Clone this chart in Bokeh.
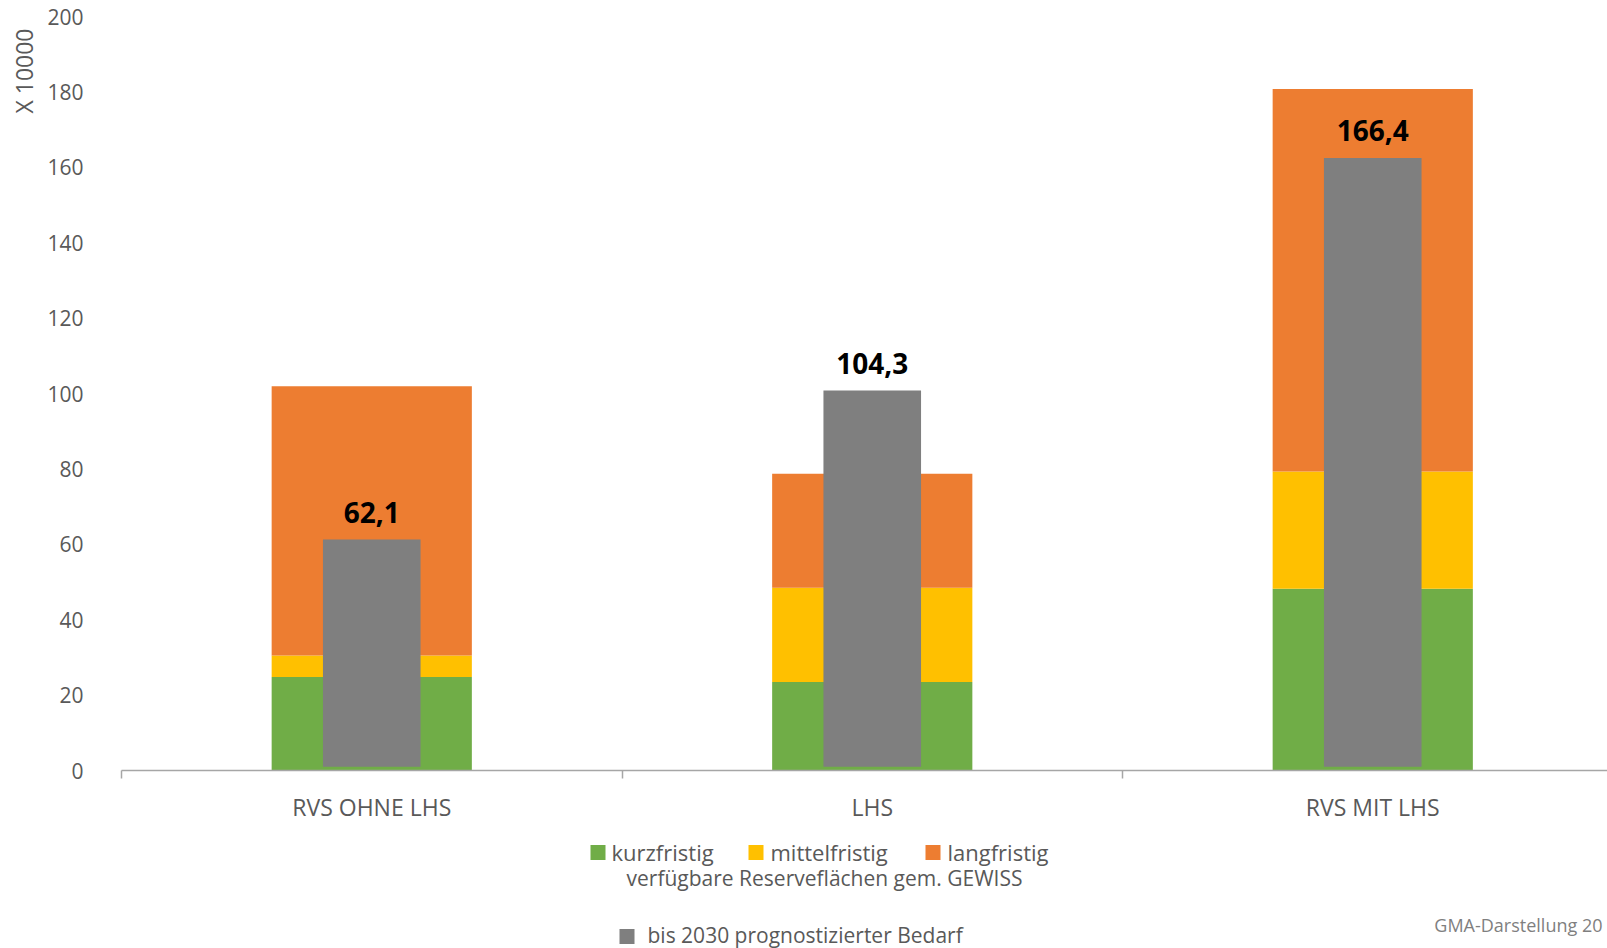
from bokeh.plotting import figure
from bokeh.layouts import column
from bokeh.models import ColumnDataSource, Range1d, FixedTicker, Title
from bokeh.core.properties import value
from bokeh.embed import file_html
from bokeh.resources import INLINE

# ---- data ----
categories = ["RVS OHNE LHS", "LHS", "RVS MIT LHS"]
kurzfristig = [24.8, 23.5, 48.2]
mittelfristig = [5.7, 25.0, 31.1]
langfristig = [71.4, 30.2, 101.5]
bedarf_top = [61.3, 100.8, 162.5]
bedarf_base = [1.0, 1.0, 1.0]
bedarf_labels = ["62,1", "104,3", "166,4"]
y_ticks = [0, 20, 40, 60, 80, 100, 120, 140, 160, 180, 200]
series_names = ["kurzfristig", "mittelfristig", "langfristig"]

FONT = "Open Sans"
TXT = "#595959"
GREEN, YELLOW, ORANGE, GRAY = "#70AD47", "#FFC000", "#ED7D31", "#7F7F7F"

W = 1605
LEFT = 117
FRAME_W = W - LEFT
xs = [i + 0.5 for i in range(len(categories))]
source = ColumnDataSource(dict(x=xs, kurz=kurzfristig, mittel=mittelfristig, lang=langfristig,
                               top=bedarf_top, base=bedarf_base, lab=bedarf_labels))

p = figure(x_range=Range1d(0, FRAME_W / 500.5), y_range=Range1d(0, 200),
           frame_width=FRAME_W, frame_height=754,
           min_border_left=LEFT, min_border_right=0, min_border_top=16, min_border_bottom=60,
           output_backend="svg", toolbar_location=None)
p.outline_line_color = None
p.xgrid.visible = False
p.ygrid.visible = False

p.vbar_stack(["kurz", "mittel", "lang"], x="x", width=0.4, color=[GREEN, YELLOW, ORANGE],
             line_color=None, source=source)
p.vbar(x="x", top="top", bottom="base", width=0.195, fill_color=GRAY, line_color=None, source=source)
p.text(x="x", y="top", text="lab", source=source, text_align="center", text_baseline="middle",
       y_offset=-27, text_font=value(FONT), text_font_style="bold", text_font_size="28px",
       text_color="black")

# y axis
ya = p.yaxis[0]
ya.ticker = FixedTicker(ticks=y_ticks)
ya.axis_line_color = None
ya.major_tick_line_color = None
ya.minor_tick_line_color = None
ya.major_label_standoff = 32
ya.major_label_text_font = FONT
ya.major_label_text_font_size = "21px"
ya.major_label_text_color = TXT

p.add_layout(Title(text="X 10000", align="right", offset=12, text_font=FONT, text_font_size="23px",
                   text_font_style="normal", text_color=TXT), "left")

# x axis
xa = p.xaxis[0]
xa.ticker = FixedTicker(ticks=xs, minor_ticks=[0, 1, 2, 3])
xa.axis_line_color = "#A6A6A6"
xa.axis_line_width = 1.5
xa.major_tick_line_color = None
xa.minor_tick_line_color = "#A6A6A6"
xa.minor_tick_line_width = 1.5
xa.minor_tick_in = 0
xa.minor_tick_out = 8
xa.major_label_overrides = {x: c for x, c in zip(xs, categories)}
xa.major_label_standoff = 12
xa.major_label_text_font = FONT
xa.major_label_text_font_size = "23px"
xa.major_label_text_color = TXT

# ---- legend / footer panel (data coords = page pixels) ----
TOP, BOT = 830, 948
q = figure(x_range=Range1d(LEFT, W), y_range=Range1d(BOT, TOP),
           frame_width=FRAME_W, frame_height=BOT - TOP,
           min_border_left=LEFT, min_border_right=0, min_border_top=0, min_border_bottom=0,
           x_axis_location=None, y_axis_location=None,
           output_backend="svg", toolbar_location=None)
q.outline_line_color = None
q.xgrid.visible = False
q.ygrid.visible = False

q.scatter(x=[593.5, 751.5, 928.5], y=[852] * 3, marker="square", size=15,
          fill_color=[GREEN, YELLOW, ORANGE], line_color=None)
q.text(x=[607, 766, 943], y=[851.5] * 3, text=series_names, text_baseline="middle",
       text_align="left", text_font=value(FONT), text_font_size="22px", text_color=TXT)
q.text(x=[820], y=[877], text=["verfügbare Reserveflächen gem. GEWISS"], text_baseline="middle",
       text_align="center", text_font=value(FONT), text_font_size="21px", text_color=TXT)
q.scatter(x=[622.5], y=[936], marker="square", size=15, fill_color=[GRAY], line_color=None)
q.text(x=[643], y=[934.5], text=["bis 2030 prognostizierter Bedarf"], text_baseline="middle",
       text_align="left", text_font=value(FONT), text_font_size="21px", text_color=TXT)
q.text(x=[1598], y=[924], text=["GMA-Darstellung 20"], text_baseline="middle",
       text_align="right", text_font=value(FONT), text_font_size="18px", text_color="#7F7F7F")

layout = column(p, q, spacing=0)
open("out.html", "w").write(file_html(layout, INLINE))
